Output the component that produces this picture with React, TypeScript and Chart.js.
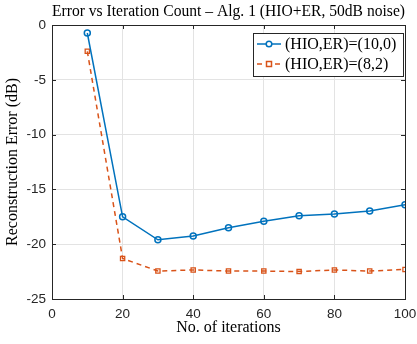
import React, { useEffect, useRef } from "react";
import { Chart, registerables } from "chart.js";

Chart.register(...registerables);

const iterations = [10, 20, 30, 40, 50, 60, 70, 80, 90, 100];
const seriesHIO10 = [-0.73, -17.5, -19.6, -19.25, -18.5, -17.9, -17.4, -17.25, -16.97, -16.4];
const seriesHIO8ER2 = [-2.4, -21.3, -22.45, -22.35, -22.45, -22.45, -22.5, -22.35, -22.45, -22.3];
const seriesLabels = ["(HIO,ER)=(10,0)", "(HIO,ER)=(8,2)"];
const titleText = "Error vs Iteration Count \u2013 Alg. 1 (HIO+ER, 50dB noise)";
const xTitle = "No. of iterations";
const yTitle = "Reconstruction Error (dB)";

const BLUE = "#0072BD";
const ORANGE = "#D95319";
const SERIF = "'Liberation Serif', 'DejaVu Serif', serif";
const SANS = "'Liberation Sans', Arial, sans-serif";

const framePlugin = {
  id: "frameAndLegend",
  afterDraw(chart: any) {
    const { ctx, chartArea } = chart;
    const { left, right, top, bottom } = chartArea;
    ctx.save();
    ctx.strokeStyle = "#262626";
    ctx.lineWidth = 1;
    ctx.strokeRect(left + 0.5, top + 0.5, right - left, bottom - top);
    // inward ticks
    const xs = chart.scales.x;
    const ys = chart.scales.y;
    const tl = 4;
    ctx.beginPath();
    xs.ticks.forEach((t: any) => {
      const px = Math.round(xs.getPixelForValue(t.value)) + 0.5;
      ctx.moveTo(px, bottom);
      ctx.lineTo(px, bottom - tl);
      ctx.moveTo(px, top);
      ctx.lineTo(px, top + tl);
    });
    ys.ticks.forEach((t: any) => {
      const py = Math.round(ys.getPixelForValue(t.value)) + 0.5;
      ctx.moveTo(left, py);
      ctx.lineTo(left + tl, py);
      ctx.moveTo(right, py);
      ctx.lineTo(right - tl, py);
    });
    ctx.stroke();

    // legend box
    const bw = 150;
    const bh = 43;
    const bx = right - bw - 2;
    const by = top + 8;
    ctx.fillStyle = "#ffffff";
    ctx.fillRect(bx, by, bw, bh);
    ctx.strokeStyle = "#262626";
    ctx.strokeRect(bx + 0.5, by + 0.5, bw, bh);
    const rows = [
      { label: seriesLabels[0], color: BLUE, dash: [] as number[], marker: "circle" },
      { label: seriesLabels[1], color: ORANGE, dash: [5, 4], marker: "rect" },
    ];
    rows.forEach((r, i) => {
      const cy = by + 11 + i * 20;
      ctx.strokeStyle = r.color;
      ctx.lineWidth = 1.5;
      ctx.setLineDash(r.dash);
      ctx.beginPath();
      ctx.moveTo(bx + 4, cy);
      ctx.lineTo(bx + 28, cy);
      ctx.stroke();
      ctx.setLineDash([]);
      ctx.beginPath();
      if (r.marker === "circle") {
        ctx.arc(bx + 16, cy, 2.8, 0, Math.PI * 2);
      } else {
        ctx.rect(bx + 13.5, cy - 2.5, 5, 5);
      }
      ctx.fillStyle = "#ffffff";
      ctx.fill();
      ctx.stroke();
      ctx.fillStyle = "#000000";
      ctx.font = "16px " + SERIF;
      ctx.textBaseline = "middle";
      ctx.textAlign = "left";
      ctx.fillText(r.label, bx + 32, cy + 1);
    });
    ctx.restore();
  },
};

export default function App() {
  const ref = useRef<HTMLCanvasElement | null>(null);
  useEffect(() => {
    if (!ref.current) return;
    const chart = new Chart(ref.current, {
      type: "line",
      data: {
        datasets: [
          {
            label: seriesLabels[0],
            data: iterations.map((x, i) => ({ x, y: seriesHIO10[i] })),
            borderColor: BLUE,
            borderWidth: 1.5,
            pointStyle: "circle",
            pointRadius: 3,
            pointBorderWidth: 1.5,
            pointBorderColor: BLUE,
            pointBackgroundColor: "rgba(255,255,255,0)",
            tension: 0,
          },
          {
            label: seriesLabels[1],
            data: iterations.map((x, i) => ({ x, y: seriesHIO8ER2[i] })),
            borderColor: ORANGE,
            borderWidth: 1.5,
            borderDash: [5, 4],
            pointStyle: "rect",
            pointRadius: 3,
            pointBorderWidth: 1.3,
            pointBorderColor: ORANGE,
            pointBackgroundColor: "rgba(255,255,255,0)",
            tension: 0,
          },
        ],
      },
      options: {
        animation: false,
        responsive: false,
        maintainAspectRatio: false,
        layout: { padding: { left: 0, right: 12, top: 0, bottom: 0 } },
        plugins: {
          legend: { display: false },
          tooltip: { enabled: false },
          title: {
            display: true,
            fullSize: false,
            text: titleText,
            color: "#000",
            font: { family: SERIF, size: 16.5, weight: "normal" },
            padding: { top: 2, bottom: 3.2 },
          },
        },
        scales: {
          x: {
            type: "linear",
            min: 0,
            max: 100,
            border: { display: false },
            grid: { color: "#e3e3e3", drawTicks: false },
            ticks: {
              stepSize: 20,
              padding: 7,
              color: "#262626",
              font: { family: SANS, size: 13.5 },
              maxRotation: 0,
            },
            title: {
              display: true,
              text: xTitle,
              color: "#000",
              font: { family: SERIF, size: 16 },
              padding: { top: 0, bottom: 6.4 },
            },
            afterFit(scale: any) {
              scale.height = 45;
              scale.paddingRight = 0;
              scale.paddingLeft = 0;
            },
          },
          y: {
            type: "linear",
            min: -25,
            max: 0,
            border: { display: false },
            grid: { color: "#e3e3e3", drawTicks: false },
            ticks: {
              stepSize: 5,
              padding: 6,
              color: "#262626",
              font: { family: SANS, size: 13.5 },
            },
            title: {
              display: true,
              text: yTitle,
              color: "#000",
              font: { family: SERIF, size: 16 },
              padding: { top: 3, bottom: 0 },
            },
            afterFit(scale: any) {
              scale.width = 52;
              scale.paddingTop = 0;
              scale.paddingBottom = 0;
            },
          },
        },
      },
      plugins: [framePlugin],
    } as any);
    return () => chart.destroy();
  }, []);
  return (
    <div style={{ position: "absolute", left: 0, top: 0, width: 417, height: 344, background: "#fff" }}>
      <canvas ref={ref} width={417} height={344} style={{ width: 417, height: 344 }} />
    </div>
  );
}
